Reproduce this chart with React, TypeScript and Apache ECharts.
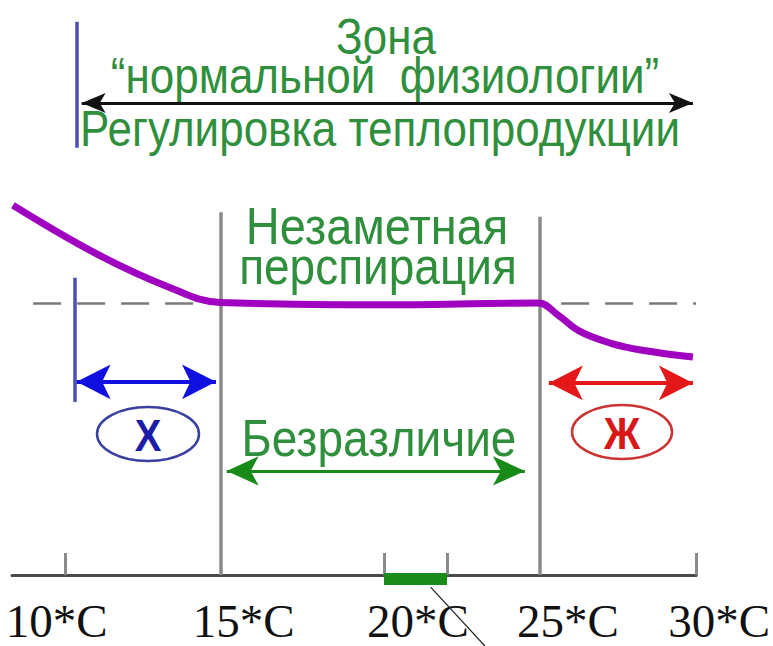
import { useEffect, useRef } from "react";
import * as echarts from "echarts";

// ---- data (temperature °C on x, relative heat production level on y) ----
const tickLabels = [10, 15, 20, 25, 30];
const tickMarks = [10, 20.1, 22.1, 30];
const curveTemp = [8.33, 11.0, 13.3, 14.9, 19.9, 25.0, 25.6, 26.3, 27.3, 28.4, 29.9];
const curveLevel = [64.3, 55.8, 50.0, 47.4, 47.0, 47.3, 45.3, 42.4, 40.3, 39.0, 37.9];
const comfortBand = [20.1, 22.1];
const comfortBandLevel = -0.7;
const zoneBounds = [14.92, 25.05];
const zoneBoundTops = [63.1, 62.3];
const basalLevel = 47.3;
const basalFrom = 8.97;
const basalTo = 30;
const regulationArrow = [10.51, 29.9, 82.1];
const coldArrow = [10.35, 14.77, 33.6];
const neutralArrow = [15.11, 24.57, 18.1];
const heatArrow = [25.33, 29.9, 33.4];
const regulationMark = [10.35, 96.2, 74.3];
const coldMark = [10.29, 51.7, 30.1];
const pointerTemp = [21.58, 23.3];
const pointerLevel = [-2.1, -12.35];

const labelShift: Record<number, number[]> = {
  10: [0, 18, 0, 0],
  15: [0, 0, 0, 41],
  20: [0, 0, 0, 74],
  25: [0, 0, 0, 59],
  30: [0, 0, 0, 46],
};

const GREEN_TEXT = "#2f8f3c";
const SANS = "'Liberation Sans', Arial, sans-serif";

function lineMark(name: string, a: number[], b: number[], color: string, width: number, opts: any = {}) {
  return {
    name,
    type: "line",
    data: [],
    silent: true,
    markLine: {
      silent: true,
      animation: false,
      symbol: opts.symbol || ["none", "none"],
      symbolSize: opts.symbolSize || [10, 10],
      label: { show: false },
      emphasis: { disabled: true },
      lineStyle: { color, width, type: opts.dash || "solid", opacity: 1 },
      data: [[{ coord: a }, { coord: b }]],
    },
  };
}

export default function App() {
  const ref = useRef<HTMLDivElement>(null);
  useEffect(() => {
    if (!ref.current) return;
    const chart = echarts.init(ref.current, undefined, { renderer: "svg" });
    const rich: any = {};
    tickLabels.forEach((t) => {
      rich["l" + t] = {
        padding: labelShift[t],
        fontFamily: "'Liberation Serif', 'Times New Roman', serif",
        fontSize: 47,
        color: "#111",
      };
    });
    const text = (t: string, x: number, y: number, size: number, color: string, bold = false, sy = 1.12) => ({
      type: "text",
      x,
      y,
      scaleY: sy,
      silent: true,
      style: {
        text: t,
        x: 0,
        y: 0,
        align: "center",
        verticalAlign: "middle",
        textAlign: "center",
        textVerticalAlign: "middle",
        fontSize: size,
        fontFamily: SANS,
        fontWeight: bold ? "bold" : "normal",
        fill: color,
      },
    });
    chart.setOption({
      animation: false,
      backgroundColor: "#ffffff",
      grid: { left: 12, right: 73, top: 0, bottom: 71 },
      xAxis: {
        type: "value",
        min: 8.3,
        max: 30,
        splitLine: { show: false },
        axisLine: { show: true, onZero: false, lineStyle: { color: "#4a4a4a", width: 3 } },
        axisTick: {
          show: true,
          inside: true,
          length: 22,
          customValues: tickMarks,
          lineStyle: { color: "#8a8a8a", width: 3 },
        },
        axisLabel: {
          show: true,
          customValues: tickLabels,
          margin: 22,
          formatter: (v: number) => `{l${v}|${v}*C}`,
          rich,
        },
      },
      yAxis: { type: "value", min: 0, max: 100, show: false },
      series: [
        lineMark("bound15", [zoneBounds[0], 0], [zoneBounds[0], zoneBoundTops[0]], "#8a8a8a", 3.5),
        lineMark("bound25", [zoneBounds[1], 0], [zoneBounds[1], zoneBoundTops[1]], "#8a8a8a", 3.5),
        lineMark("basal", [basalFrom, basalLevel], [basalTo, basalLevel], "#7a7a7a", 2.5, { dash: [28, 16] }),
        lineMark("regMark", [regulationMark[0], regulationMark[1]], [regulationMark[0], regulationMark[2]], "#4a50b0", 3.5),
        lineMark("coldMark", [coldMark[0], coldMark[1]], [coldMark[0], coldMark[2]], "#4a50b0", 3.5),
        lineMark("regArrow", [regulationArrow[0], regulationArrow[2]], [regulationArrow[1], regulationArrow[2]], "#111", 3, {
          symbol: ["arrow", "arrow"],
          symbolSize: [15, 24],
        }),
        lineMark("coldArrow", [coldArrow[0], coldArrow[2]], [coldArrow[1], coldArrow[2]], "#1010e0", 4, {
          symbol: ["arrow", "arrow"],
          symbolSize: [26, 34],
        }),
        lineMark("neutralArrow", [neutralArrow[0], neutralArrow[2]], [neutralArrow[1], neutralArrow[2]], "#178a17", 3, {
          symbol: ["arrow", "arrow"],
          symbolSize: [22, 32],
        }),
        lineMark("heatArrow", [heatArrow[0], heatArrow[2]], [heatArrow[1], heatArrow[2]], "#e41818", 4, {
          symbol: ["arrow", "arrow"],
          symbolSize: [26, 34],
        }),
        {
          name: "heat",
          type: "line",
          data: curveTemp.map((t, i) => [t, curveLevel[i]]),
          smooth: 0.4,
          symbol: "none",
          silent: true,
          lineStyle: { color: "#a000c0", width: 7 },
          z: 5,
        },
        {
          name: "comfort",
          type: "line",
          data: comfortBand.map((t) => [t, comfortBandLevel]),
          symbol: "none",
          clip: false,
          silent: true,
          lineStyle: { color: "#1a8c1a", width: 12, cap: "butt" },
          z: 6,
        },
        {
          name: "pointer",
          type: "line",
          data: pointerTemp.map((t, i) => [t, pointerLevel[i]]),
          symbol: "none",
          clip: false,
          silent: true,
          lineStyle: { color: "#222", width: 1.2 },
          z: 6,
        },
      ],
      graphic: [
        text("Зона", 386, 37, 44, GREEN_TEXT),
        text("“нормальной  физиологии”", 385, 76, 44, GREEN_TEXT),
        text("Регулировка теплопродукции", 380, 129, 44, GREEN_TEXT),
        text("Незаметная", 377, 226, 47, GREEN_TEXT),
        text("перспирация", 378, 266, 46, GREEN_TEXT),
        text("Безразличие", 379, 438, 46, GREEN_TEXT),
        {
          type: "ellipse",
          silent: true,
          shape: { cx: 148, cy: 434, rx: 51, ry: 27 },
          style: { fill: "transparent", stroke: "#3a3fa0", lineWidth: 2.5 },
        },
        text("Х", 148, 436, 40, "#1c1ca8", true),
        {
          type: "ellipse",
          silent: true,
          shape: { cx: 622, cy: 432, rx: 50, ry: 27 },
          style: { fill: "transparent", stroke: "#cc3333", lineWidth: 2.5 },
        },
        text("Ж", 622, 434, 40, "#d81818", true),
      ],
    });
    return () => chart.dispose();
  }, []);
  return (
    <div
      ref={ref}
      style={{ position: "absolute", left: 0, top: 0, width: 773, height: 646, background: "#fff" }}
    />
  );
}
